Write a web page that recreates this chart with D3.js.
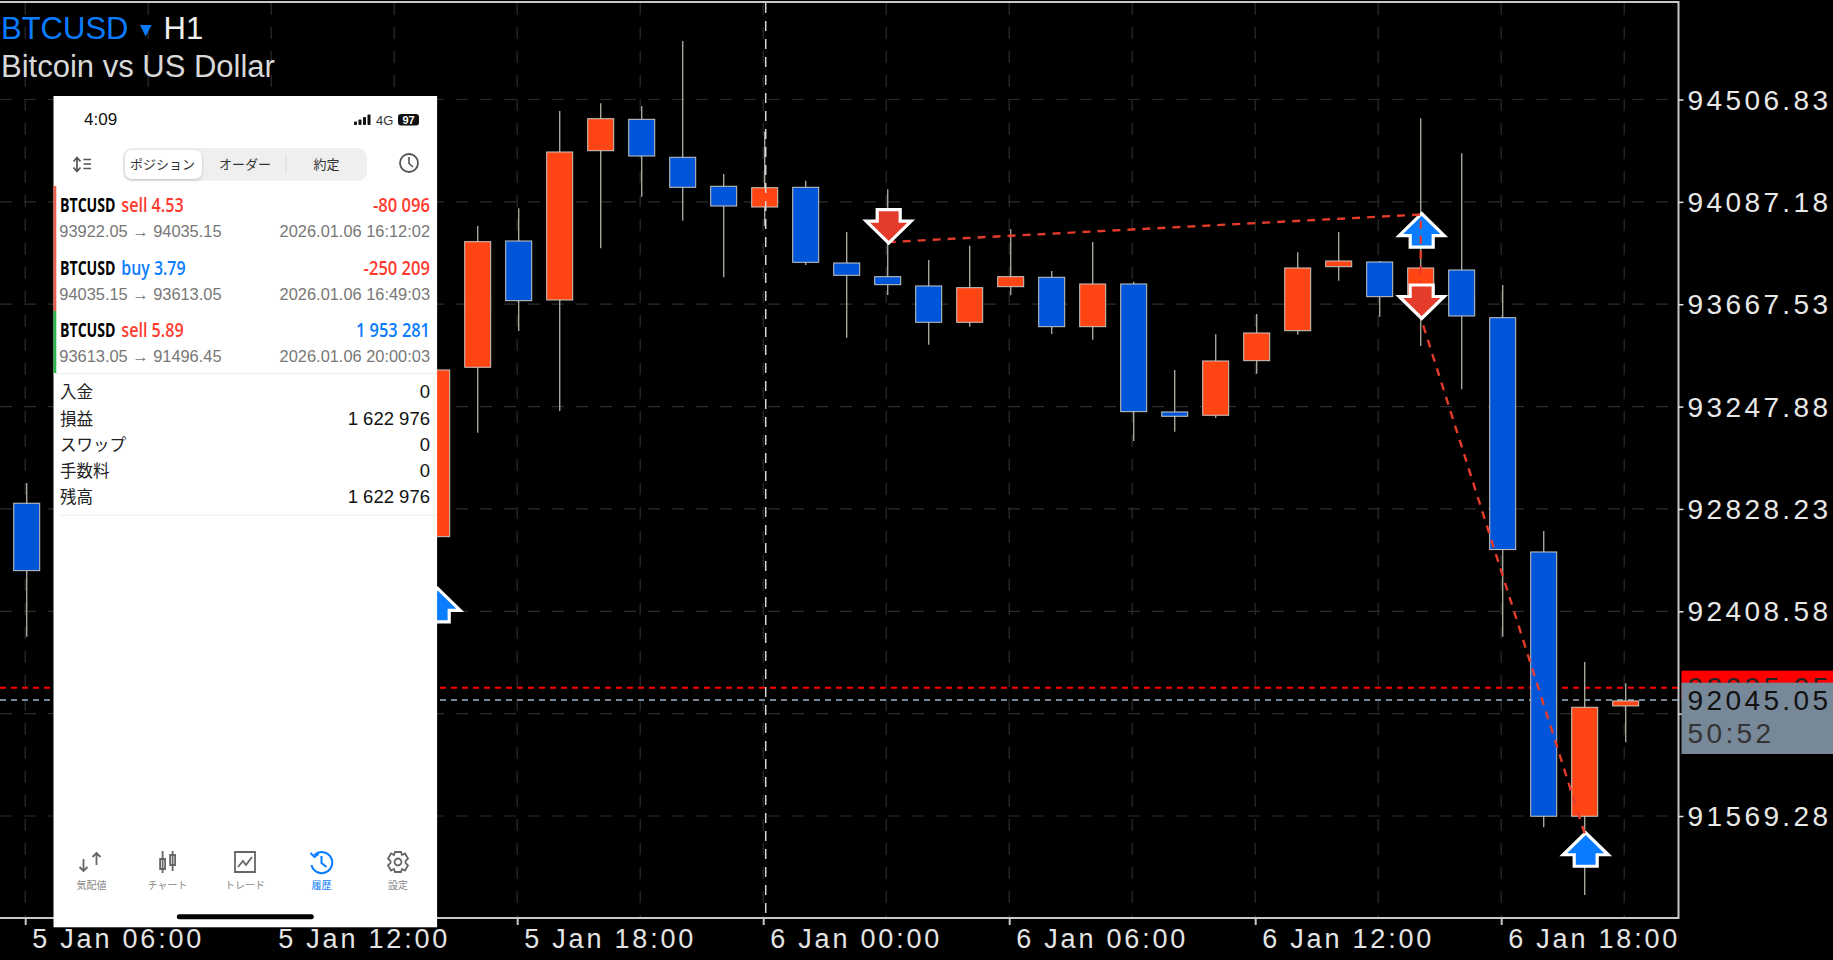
<!DOCTYPE html>
<html>
<head>
<meta charset="utf-8">
<script src="https://cdn.jsdelivr.net/npm/d3@7"></script>
<style>
  html, body { margin: 0; background: #000; overflow: hidden; }
  text { font-family: "Liberation Sans", Arial, sans-serif; }
  .jp { font-family: "Noto Sans CJK JP", sans-serif; }
</style>
</head>
<body>
<div id="chart"></div>
<script>
// candles visible around the phone screenshot (blue = falling, orange = rising)
var candleTimes = [
  "2026-01-05T06:00Z", "2026-01-05T16:00Z", "2026-01-05T17:00Z", "2026-01-05T18:00Z",
  "2026-01-05T19:00Z", "2026-01-05T20:00Z", "2026-01-05T21:00Z", "2026-01-05T22:00Z",
  "2026-01-05T23:00Z", "2026-01-06T00:00Z", "2026-01-06T01:00Z", "2026-01-06T02:00Z",
  "2026-01-06T03:00Z", "2026-01-06T04:00Z", "2026-01-06T05:00Z", "2026-01-06T06:00Z",
  "2026-01-06T07:00Z", "2026-01-06T08:00Z", "2026-01-06T09:00Z", "2026-01-06T10:00Z",
  "2026-01-06T11:00Z", "2026-01-06T12:00Z", "2026-01-06T13:00Z", "2026-01-06T14:00Z",
  "2026-01-06T15:00Z", "2026-01-06T16:00Z", "2026-01-06T17:00Z", "2026-01-06T18:00Z",
  "2026-01-06T19:00Z", "2026-01-06T20:00Z", "2026-01-06T21:00Z"
];
var opens = [92851.5, 92714.5, 93409.0, 93926.7, 93684.9, 94296.9, 94425.6, 94269.9,
  94151.0, 94066.1, 94146.9, 93836.5, 93780.4, 93742.3, 93593.5, 93739.4,
  93777.9, 93575.4, 93750.5, 93225.8, 93212.2, 93436.0, 93559.0, 93821.4,
  93840.6, 93698.4, 93807.8, 93612.3, 92651.8, 91568.3, 92020.5];
var closes = [92575.2, 93397.9, 93923.9, 93682.0, 94291.6, 94428.1, 94275.2, 94146.9,
  94070.2, 94145.2, 93839.4, 93786.1, 93747.6, 93593.5, 93735.3, 93780.4,
  93575.4, 93750.5, 93227.0, 93208.1, 93434.8, 93549.6, 93816.1, 93844.8,
  93698.4, 93816.1, 93619.3, 92661.6, 91568.3, 92015.1, 92041.0];
var highs = [92934.7, 93397.9, 93988.2, 94060.8, 94459.7, 94491.2, 94480.2, 94746.6,
  94201.4, 94374.8, 94173.9, 93963.6, 94138.7, 93848.8, 93907.5, 93974.7,
  93803.8, 93922.6, 93759.9, 93397.9, 93544.3, 93627.5, 93880.4, 93963.6,
  93844.8, 94429.7, 94286.3, 93746.4, 92737.9, 92200.9, 92113.6];
var lows = [92304.6, 92714.5, 93140.9, 93557.8, 93229.8, 93896.8, 94108.3, 94010.0,
  93777.9, 93988.2, 93828.3, 93530.3, 93705.4, 93501.6, 93575.4, 93704.1,
  93545.5, 93522.1, 93106.9, 93145.0, 93201.1, 93382.8, 93542.6, 93764.0,
  93616.4, 93496.3, 93318.8, 92304.6, 91523.3, 91245.7, 91871.7];

var priceTicks = [94506.83, 94087.18, 93667.53, 93247.88, 92828.23, 92408.58, 91988.93, 91569.28];
var hiddenPriceLabel = 91988.93; // sits under the bid box in the reference
var timeTicks = ["2026-01-05T06:00Z", "2026-01-05T12:00Z", "2026-01-05T18:00Z", "2026-01-06T00:00Z",
  "2026-01-06T06:00Z", "2026-01-06T12:00Z", "2026-01-06T18:00Z"];
var gridTimes = ["2026-01-05T06:00Z", "2026-01-05T09:00Z", "2026-01-05T12:00Z", "2026-01-05T15:00Z",
  "2026-01-05T18:00Z", "2026-01-05T21:00Z", "2026-01-06T00:00Z", "2026-01-06T03:00Z",
  "2026-01-06T06:00Z", "2026-01-06T09:00Z", "2026-01-06T12:00Z", "2026-01-06T15:00Z",
  "2026-01-06T18:00Z", "2026-01-06T21:00Z"];
var separatorTime = "2026-01-06T00:00Z";

var askPrice = 92095.05, bidPrice = 92045.05, countdown = "50:52";

// trade markers and the dashed lines joining them
var arrowTimes = ["2026-01-05T16:00Z", "2026-01-06T03:00Z", "2026-01-06T16:00Z", "2026-01-06T16:00Z", "2026-01-06T20:00Z"];
var arrowPrices = [92498.1, 93922.05, 94035.15, 93613.05, 91496.45];
var arrowSides = ["buy", "sell", "buy", "sell", "buy"];
var tradeLineTimes = ["2026-01-06T03:00Z", "2026-01-06T16:00Z", "2026-01-06T16:00Z", "2026-01-06T20:00Z"];
var tradeLinePrices = [93922.05, 94035.15, 93613.05, 91496.45];

// phone screenshot texts
var rowSymbols = ["BTCUSD", "BTCUSD", "BTCUSD"];
var rowSides = ["sell 4.53", "buy 3.79", "sell 5.89"];
var rowProfits = ["-80 096", "-250 209", "1 953 281"];
var rowPrices = ["93922.05 \u2192 94035.15", "94035.15 \u2192 93613.05", "93613.05 \u2192 91496.45"];
var rowDates = ["2026.01.06 16:12:02", "2026.01.06 16:49:03", "2026.01.06 20:00:03"];
var summaryLabels = ["入金", "損益", "スワップ", "手数料", "残高"];
var summaryValues = ["0", "1 622 976", "0", "0", "1 622 976"];
var tabLabels = ["気配値", "チャート", "トレード", "履歴", "設定"];
var segmentLabels = ["ポジション", "オーダー", "約定"];

var blue = "#0055d9", orange = "#ff4514", markBlue = "#0a7cff", markRed = "#e53b2b";
var plotRight = 1678.5, plotBottom = 918;

var candles = candleTimes.map(function(t, i) {
  return { date: new Date(t), open: opens[i], close: closes[i], high: highs[i], low: lows[i] };
});

var svg = d3.select("#chart").append("svg")
  .attr("width", 1833)
  .attr("height", 960)
  .style("display", "block");

var x = d3.scaleUtc()
  .domain([new Date("2026-01-05T06:00Z"), new Date("2026-01-06T21:00Z")])
  .range([26.7, 1625.7]);
var y = d3.scaleLinear()
  .domain([91569.28, 94506.83])
  .range([816, 99.5]);

// grid
svg.append("g").selectAll("line")
  .data(priceTicks)
  .enter().append("line")
  .attr("x1", 0).attr("x2", plotRight)
  .attr("y1", function(d) { return y(d); })
  .attr("y2", function(d) { return y(d); })
  .attr("stroke", "#2c2c2c")
  .attr("stroke-width", 1.2)
  .attr("stroke-dasharray", "12,12");

svg.append("g").selectAll("line")
  .data(gridTimes)
  .enter().append("line")
  .attr("x1", function(d) { return x(new Date(d)) - 1.5; })
  .attr("x2", function(d) { return x(new Date(d)) - 1.5; })
  .attr("y1", 3).attr("y2", plotBottom)
  .attr("stroke", "#2c2c2c")
  .attr("stroke-width", 1.2)
  .attr("stroke-dasharray", "12,12");

// ask / bid lines sit under the candles
svg.append("line")
  .attr("x1", 0).attr("x2", plotRight)
  .attr("y1", y(askPrice)).attr("y2", y(askPrice))
  .attr("stroke", "#ff0000").attr("stroke-width", 2)
  .attr("stroke-dasharray", "6,5");
svg.append("line")
  .attr("x1", 0).attr("x2", plotRight)
  .attr("y1", y(bidPrice)).attr("y2", y(bidPrice))
  .attr("stroke", "#778899").attr("stroke-width", 2)
  .attr("stroke-dasharray", "6,5");

// candles
var candle = svg.append("g").selectAll("g")
  .data(candles)
  .enter().append("g");

candle.append("line")
  .attr("x1", function(d) { return x(d.date); })
  .attr("x2", function(d) { return x(d.date); })
  .attr("y1", function(d) { return y(d.high); })
  .attr("y2", function(d) { return y(d.low); })
  .attr("stroke", "#a5a59a")
  .attr("stroke-width", 1.4);

candle.append("rect")
  .attr("x", function(d) { return x(d.date) - 13; })
  .attr("width", 26)
  .attr("y", function(d) { return y(Math.max(d.open, d.close)); })
  .attr("height", function(d) { return Math.abs(y(d.open) - y(d.close)); })
  .attr("fill", function(d) { return d.close > d.open ? orange : blue; })
  .attr("stroke", "#c9c9c4")
  .attr("stroke-width", 1);

// midnight separator
svg.append("line")
  .attr("x1", x(new Date(separatorTime)) + 1).attr("x2", x(new Date(separatorTime)) + 1)
  .attr("y1", 3).attr("y2", plotBottom)
  .attr("stroke", "#d8d8d8")
  .attr("stroke-width", 1.5)
  .attr("stroke-dasharray", "10,8");

// trade arrows, drawn with the tip on the price
function arrowPath(dir) {
  var pts = [[0, -1], [-22.5, 21], [-11.5, 21], [-11.5, 32.5], [11.5, 32.5], [11.5, 21], [22.5, 21]];
  return "M" + pts.map(function(p) { return p[0] + "," + (p[1] * dir); }).join("L") + "Z";
}

var arrows = arrowTimes.map(function(t, i) {
  return { date: new Date(t), price: arrowPrices[i], side: arrowSides[i] };
});

function drawArrows(side) {
  var dir = side === "buy" ? 1 : -1;
  svg.append("g").selectAll("path")
    .data(arrows.filter(function(d) { return d.side === side; }))
    .enter().append("path")
    .attr("transform", function(d) { return "translate(" + (x(d.date) + 1) + "," + y(d.price) + ")"; })
    .attr("d", arrowPath(dir))
    .attr("fill", side === "buy" ? markBlue : markRed)
    .attr("stroke", "#fff")
    .attr("stroke-width", 3.2)
    .attr("stroke-miterlimit", 3);
}

drawArrows("buy");

var tradeLine = d3.line()
  .x(function(d) { return x(new Date(d[0])); })
  .y(function(d) { return y(d[1]); });

svg.append("path")
  .attr("d", tradeLine(d3.zip(tradeLineTimes, tradeLinePrices)))
  .attr("fill", "none")
  .attr("stroke", markRed)
  .attr("stroke-width", 2.4)
  .attr("stroke-dasharray", "8,7");

drawArrows("sell");

// frame
svg.append("path")
  .attr("d", "M0,2H" + plotRight + "V" + plotBottom + "H0")
  .attr("fill", "none")
  .attr("stroke", "#c8c8c8")
  .attr("stroke-width", 2);

// axes
var xAxis = d3.axisBottom(x)
  .tickValues(timeTicks.map(function(d) { return new Date(d); }))
  .tickFormat(d3.utcFormat("%-d %b %H:%M"))
  .tickSize(7);

var xAxisG = svg.append("g")
  .attr("transform", "translate(-1.5," + plotBottom + ")")
  .call(xAxis);
xAxisG.select(".domain").remove();
xAxisG.selectAll(".tick line").attr("stroke", "#c8c8c8").attr("stroke-width", 2);
xAxisG.selectAll(".tick text")
  .attr("text-anchor", "start")
  .attr("x", 6.5).attr("y", 30).attr("dy", 0)
  .attr("fill", "#e4e4e4")
  .style("font-size", "27px")
  .style("letter-spacing", "2.8px");

var yAxis = d3.axisRight(y)
  .tickValues(priceTicks)
  .tickFormat(function(d) { return d === hiddenPriceLabel ? "" : d3.format(".2f")(d); })
  .tickSize(5);

var yAxisG = svg.append("g")
  .attr("transform", "translate(" + plotRight + ",0)")
  .call(yAxis);
yAxisG.select(".domain").remove();
yAxisG.selectAll(".tick line").attr("stroke", "#e0e0e0").attr("stroke-width", 1.5);
yAxisG.selectAll(".tick text")
  .attr("x", 9).attr("dy", 0).attr("y", 9.7)
  .attr("fill", "#e8e8e8")
  .style("font-size", "28px")
  .style("letter-spacing", "3.4px");

// ask / bid labels on the price scale
svg.append("rect")
  .attr("x", 1681.5).attr("y", 670.7).attr("width", 152).attr("height", 30)
  .attr("fill", "#ff0000");
svg.append("text")
  .attr("x", 1687.5).attr("y", 697)
  .attr("fill", "#222")
  .style("font-size", "28px").style("letter-spacing", "3.4px")
  .text(askPrice.toFixed(2));
svg.append("rect")
  .attr("x", 1681.5).attr("y", 682.7).attr("width", 152).attr("height", 71.3)
  .attr("fill", "#778899");
svg.append("text")
  .attr("x", 1687.5).attr("y", 709.5)
  .attr("fill", "#111")
  .style("font-size", "28px").style("letter-spacing", "3.4px")
  .text(bidPrice.toFixed(2));
svg.append("text")
  .attr("x", 1687.5).attr("y", 742.7)
  .attr("fill", "#333")
  .style("font-size", "28px").style("letter-spacing", "3.4px")
  .text(countdown);

// title
var title = svg.append("text").attr("x", 1).attr("y", 38.5).style("font-size", "31px");
title.append("tspan").attr("fill", markBlue).text("BTCUSD");
title.append("tspan").attr("fill", "#eee").attr("x", 163.5).text("H1");
svg.append("path")
  .attr("d", "M140,25H151.5L145.7,36.5Z")
  .attr("fill", markBlue);
svg.append("text")
  .attr("x", 1).attr("y", 76.5)
  .attr("fill", "#d8d8d8")
  .style("font-size", "31px")
  .text("Bitcoin vs US Dollar");

// phone screenshot laid over the chart
var phone = svg.append("g");
phone.append("rect")
  .attr("x", 53.5).attr("y", 96).attr("width", 383.6).attr("height", 831.3)
  .attr("fill", "#fff");

phone.append("text").attr("x", 84).attr("y", 125)
  .attr("fill", "#111").style("font-size", "17px").style("font-weight", "500").text("4:09");

[[354, 121.5], [358.5, 119.5], [363, 117], [367.5, 114.5]].forEach(function(b) {
  phone.append("rect").attr("x", b[0]).attr("y", b[1]).attr("width", 3)
    .attr("height", 125 - b[1]).attr("rx", 0.8).attr("fill", "#111");
});
phone.append("text").attr("x", 376).attr("y", 125)
  .attr("fill", "#333").style("font-size", "13px").text("4G");
phone.append("rect").attr("x", 398).attr("y", 114).attr("width", 21).attr("height", 11.5).attr("rx", 3).attr("fill", "#111");
phone.append("text").attr("x", 408.5).attr("y", 124).attr("text-anchor", "middle")
  .attr("fill", "#fff").style("font-size", "11px").style("font-weight", "700").text("97");

// sort icon
phone.append("path")
  .attr("d", "M77,158V171M73.5,161.5L77,157.5L80.5,161.5M73.5,167.5L77,171.5L80.5,167.5M83.5,159.5H91M83.5,164H91M83.5,168.5H91")
  .attr("fill", "none").attr("stroke", "#555").attr("stroke-width", 1.7);

// segmented control
phone.append("rect").attr("x", 123).attr("y", 148).attr("width", 244).attr("height", 33).attr("rx", 9).attr("fill", "#efefef");
phone.append("rect").attr("x", 125).attr("y", 150).attr("width", 77).attr("height", 29).attr("rx", 7)
  .attr("fill", "#fff").style("filter", "drop-shadow(0 1px 1.5px rgba(0,0,0,.2))");
phone.append("line").attr("x1", 286).attr("x2", 286).attr("y1", 155).attr("y2", 173).attr("stroke", "#d8d8d8");
[162.6, 245, 326.4].forEach(function(cx, i) {
  phone.append("text").attr("class", "jp")
    .attr("x", cx).attr("y", 169).attr("text-anchor", "middle")
    .attr("fill", "#333").style("font-size", "13px")
    .text(segmentLabels[i]);
});

// history clock
phone.append("circle").attr("cx", 409).attr("cy", 163).attr("r", 9)
  .attr("fill", "none").attr("stroke", "#555").attr("stroke-width", 1.8);
phone.append("path").attr("d", "M409,157V163.5L413,167")
  .attr("fill", "none").attr("stroke", "#555").attr("stroke-width", 1.6);

// deal rows
phone.append("rect").attr("x", 53.5).attr("y", 186).attr("width", 2.8).attr("height", 125).attr("fill", "#e8604c");
phone.append("rect").attr("x", 53.5).attr("y", 311).attr("width", 2.8).attr("height", 62).attr("fill", "#2db84d");

var rowBase = [211.7, 274.5, 336.7];
var rowColors = ["#ff3b30", "#0a7cff", "#ff3b30"];
var profitColors = ["#ff3b30", "#ff3b30", "#0a7cff"];
var sideWidths = [62.4, 64.3, 62.4];
var profitWidths = [57, 66.4, 74];

// the app uses a condensed face, so squeeze Open Sans to the measured width
function squeezed(left, base, width, str, color, weight) {
  var t = phone.append("text")
    .attr("fill", color)
    .style("font-family", "'Open Sans'")
    .style("font-size", "19.5px")
    .style("font-weight", weight)
    .text(str);
  var sx = width / t.node().getComputedTextLength();
  t.attr("transform", "translate(" + left + "," + base + ") scale(" + sx + ",1)");
}

rowBase.forEach(function(by, i) {
  squeezed(60, by, 55.5, rowSymbols[i], "#000", 700);
  squeezed(121.3, by, sideWidths[i], rowSides[i], rowColors[i], 600);
  squeezed(430 - profitWidths[i], by, profitWidths[i], rowProfits[i], profitColors[i], 600);
  phone.append("text").attr("x", 59.3).attr("y", by + 25.5)
    .attr("fill", "#777").style("font-size", "16.4px").text(rowPrices[i]);
  phone.append("text").attr("x", 430).attr("y", by + 25.5).attr("text-anchor", "end")
    .attr("fill", "#777").style("font-size", "16.4px").text(rowDates[i]);
});

phone.append("line").attr("x1", 53.5).attr("x2", 437).attr("y1", 373.5).attr("y2", 373.5).attr("stroke", "#eee");
phone.append("line").attr("x1", 60).attr("x2", 437).attr("y1", 515).attr("y2", 515).attr("stroke", "#eee");

// summary
var summaryBase = [398, 424.5, 450.5, 477, 503];
summaryBase.forEach(function(by, i) {
  phone.append("text").attr("class", "jp").attr("x", 60).attr("y", by)
    .attr("fill", "#222").style("font-size", "16.5px").text(summaryLabels[i]);
  phone.append("text").attr("x", 430).attr("y", by).attr("text-anchor", "end")
    .attr("fill", "#111").style("font-size", "18.5px").text(summaryValues[i]);
});

// tab bar
var tabX = [91.5, 167.6, 245, 321.5, 398];
var tabIcons = [
  "M-8,-3V9M-12,5L-8,9L-4,5M5,-9V3M1,-5L5,-9L9,-5",
  "M-5,-11V11M-7.5,-3H-2.5V7H-7.5ZM5,-11V9M2.5,-7H7.5V3H2.5Z",
  "M-10,-10H10V10H-10ZM-7,5L-2,-1L1,3L7,-5",
  "M-7,-7A10.5,10.5 0 1 1 -10,3M-11,-9L-7,-5L-3,-8M0,-6V1L5,5",
  "M-3,-10H3L4,-7L7,-8.5L10,-3.5L7.5,-1V1L10,3.5L7,8.5L4,7L3,10H-3L-4,7L-7,8.5L-10,3.5L-7.5,1V-1L-10,-3.5L-7,-8.5L-4,-7ZM3.5,0A3.5,3.5 0 1 1 -3.5,0A3.5,3.5 0 1 1 3.5,0Z"
];
tabX.forEach(function(cx, i) {
  var c = i === 3 ? "#0a7cff" : "#666";
  phone.append("path")
    .attr("transform", "translate(" + cx + ",862)")
    .attr("d", tabIcons[i])
    .attr("fill", "none").attr("stroke", c).attr("stroke-width", i === 3 ? 2 : 1.8);
  phone.append("text").attr("class", "jp")
    .attr("x", cx).attr("y", 889).attr("text-anchor", "middle")
    .attr("fill", i === 3 ? "#0a7cff" : "#888").style("font-size", "10px")
    .text(tabLabels[i]);
});

phone.append("rect").attr("x", 176.8).attr("y", 914.3).attr("width", 137).attr("height", 5).attr("rx", 2.5).attr("fill", "#000");
</script>
</body>
</html>
